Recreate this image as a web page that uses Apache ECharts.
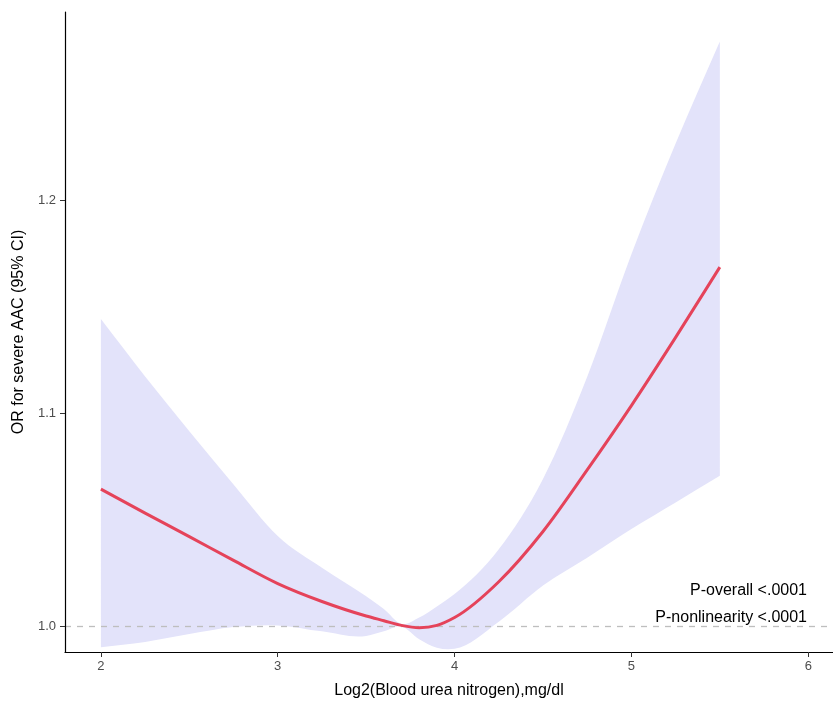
<!DOCTYPE html>
<html>
<head>
<meta charset="utf-8">
<script src="https://cdn.jsdelivr.net/npm/echarts@6/dist/echarts.min.js"></script>
<style>html,body{margin:0;padding:0;background:#fff;}#c{width:833px;height:722px;}</style>
</head>
<body>
<div id="c"></div>
<script>
const xVals  = [2.0, 2.25, 2.5, 2.75, 3.0, 3.25, 3.5, 3.6, 3.7, 3.8, 3.9, 4.0, 4.25, 4.5, 4.75, 5.0, 5.25, 5.5];
const orMid  = [1.0643, 1.0530, 1.0420, 1.0308, 1.0199, 1.0115, 1.0047, 1.0025, 1.0003, 0.9992, 1.0003, 1.0040, 1.0208, 1.0444, 1.0733, 1.1035, 1.1355, 1.1685];
const orUp   = [1.1441, 1.1172, 1.0915, 1.0665, 1.0423, 1.0274, 1.0140, 1.0080, 1.0010, 1.0040, 1.0092, 1.0150, 1.0360, 1.0690, 1.1170, 1.1745, 1.2265, 1.2745];
const orLow  = [0.9900, 0.9925, 0.9962, 0.9995, 1.0003, 0.9975, 0.9953, 0.9975, 0.9998, 0.9938, 0.9898, 0.9893, 1.0020, 1.0190, 1.0320, 1.0455, 1.0580, 1.0705];
const xTicks = [2, 3, 4, 5, 6];
const yTicks = [1.0, 1.1, 1.2];
const refLine = 1.0;
const pTexts = ['P-overall <.0001', 'P-nonlinearity <.0001'];

const chart = echarts.init(document.getElementById('c'));
const rows = xVals.map((x, i) => [x, orLow[i], orUp[i], orMid[i]]);

// cubic Hermite path through screen points
function hermiteSegs(p) {
  const n = p.length, m = [];
  for (let i = 0; i < n; i++) {
    if (i === 0) m.push((p[1][1] - p[0][1]) / (p[1][0] - p[0][0]));
    else if (i === n - 1) m.push((p[n-1][1] - p[n-2][1]) / (p[n-1][0] - p[n-2][0]));
    else {
      const s0 = (p[i][1] - p[i-1][1]) / (p[i][0] - p[i-1][0]);
      const s1 = (p[i+1][1] - p[i][1]) / (p[i+1][0] - p[i][0]);
      const h0 = p[i][0] - p[i-1][0], h1 = p[i+1][0] - p[i][0];
      m.push((s0 * h1 + s1 * h0) / (h0 + h1));
    }
  }
  let d = '';
  for (let i = 0; i < n - 1; i++) {
    const h = p[i+1][0] - p[i][0];
    d += ` C ${p[i][0] + h / 3} ${p[i][1] + m[i] * h / 3} ${p[i+1][0] - h / 3} ${p[i+1][1] - m[i+1] * h / 3} ${p[i+1][0]} ${p[i+1][1]}`;
  }
  return d;
}

chart.setOption({
  animation: false,
  backgroundColor: '#fff',
  grid: { left: 65, right: 0, top: 12, bottom: 70 },
  xAxis: {
    type: 'value', min: 1.797, max: 6.14, z: 10,
    name: 'Log2(Blood urea nitrogen),mg/dl', nameLocation: 'middle', nameGap: 31,
    nameTextStyle: { color: '#000', fontSize: 16, fontFamily: 'Liberation Sans, Arial' },
    axisLine: { show: true, lineStyle: { color: '#000', width: 1.2 } },
    axisTick: { show: true, length: 5, lineStyle: { color: '#333' }, customValues: xTicks },
    axisLabel: { color: '#4D4D4D', fontSize: 13, margin: 8, fontFamily: 'Liberation Sans, Arial', customValues: xTicks, formatter: v => String(v) },
    splitLine: { show: false }
  },
  yAxis: {
    type: 'value', min: 0.9878, max: 1.2883, z: 10,
    name: 'OR for severe AAC (95% CI)', nameLocation: 'middle', nameGap: 38, nameRotate: 90,
    nameTextStyle: { color: '#000', fontSize: 16, fontFamily: 'Liberation Sans, Arial' },
    axisLine: { show: true, lineStyle: { color: '#000', width: 1.2 } },
    axisTick: { show: true, length: 5, lineStyle: { color: '#333' }, customValues: yTicks },
    axisLabel: { color: '#4D4D4D', fontSize: 13, margin: 9, fontFamily: 'Liberation Sans, Arial', customValues: yTicks, formatter: v => v.toFixed(1) },
    splitLine: { show: false }
  },
  series: [
    { type: 'custom', data: rows, silent: true, z: 1, clip: true,
      renderItem: function (params, api) {
        if (params.dataIndex !== 0) return null;
        const up = rows.map(r => api.coord([r[0], r[2]]));
        const low = rows.map(r => api.coord([r[0], r[1]])).reverse();
        const d = `M ${up[0][0]} ${up[0][1]}` + hermiteSegs(up) + ` L ${low[0][0]} ${low[0][1]}` + hermiteSegs(low) + ' Z';
        return { type: 'path', shape: { pathData: d }, style: { fill: 'rgb(227,227,250)', stroke: null } };
      },
      markLine: { silent: true, symbol: 'none', label: { show: false },
        lineStyle: { color: '#BEBEBE', type: [6, 6], width: 1.3 }, data: [{ yAxis: refLine }] }
    },
    { type: 'custom', data: rows, silent: true, z: 5,
      renderItem: function (params, api) {
        if (params.dataIndex !== 0) return null;
        const mid = rows.map(r => api.coord([r[0], r[3]]));
        const d = `M ${mid[0][0]} ${mid[0][1]}` + hermiteSegs(mid);
        return { type: 'path', shape: { pathData: d }, style: { fill: null, stroke: '#E5435A', lineWidth: 3, lineCap: 'butt', lineJoin: 'round' } };
      }
    }
  ],
  graphic: [
    { type: 'text', right: 26, top: 583, z: 10, style: { text: pTexts[0], fill: '#000', font: '16px Liberation Sans, Arial', textAlign: 'right' } },
    { type: 'text', right: 26, top: 610, z: 10, style: { text: pTexts[1], fill: '#000', font: '16px Liberation Sans, Arial', textAlign: 'right' } }
  ]
});
</script>
</body>
</html>
